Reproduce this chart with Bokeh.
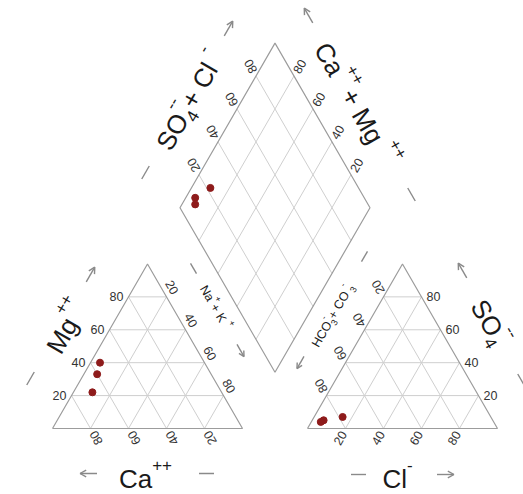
import numpy as np
from bokeh.plotting import figure
from bokeh.models import Range1d
from bokeh.embed import file_html
from bokeh.resources import INLINE
from bokeh.core.properties import value

# Sample compositions in percent of milliequivalents
ca = [68, 55, 60]
mg = [22, 40, 33]
na_k = [10, 5, 7]
cl = [15, 6, 5]
so4 = [7, 5, 4]
hco3 = [78, 89, 91]

tick_values = [20, 40, 60, 80]
tick_labels = ["20", "40", "60", "80"]

W, H = 523, 494
SCALE = 1.9                      # screen pixels per percent unit
ORIGIN_X, ORIGIN_Y = 52, 428     # screen position of the cation triangle's left corner
GAP = 34.2                       # space between the two triangles (percent units)
S3 = np.sqrt(3) / 2
OX = 100 + GAP                   # left corner of the anion triangle
BX, BY = 100 + GAP / 2, GAP * S3 # bottom corner of the diamond

FONT = "Liberation Sans"
GRID = "#cfcfcf"
EDGE = "#9c9c9c"
TICK_COLOR = "#333333"
TITLE_COLOR = "#1a1a1a"
DECOR = "#8a8a8a"
POINT = "#8E1B1B"

CHAR_W = {'C': 0.722, 'a': 0.556, 'M': 0.833, 'g': 0.556, '+': 0.584, 'N': 0.722,
          'K': 0.667, 'H': 0.722, 'O': 0.778, 'S': 0.667, 'l': 0.222, '3': 0.556,
          '4': 0.556, ' ': 0.278, '-': 0.333}


def cation_xy(c, m, n):
    return n + m / 2, m * S3


def anion_xy(c, s, h):
    return OX + c + s / 2, s * S3


def diamond_xy(sc, cm):
    return BX + 0.5 * (sc - cm), BY + S3 * (sc + cm)


def to_data(px, py):
    return (px - ORIGIN_X) / SCALE, (ORIGIN_Y - py) / SCALE


def text_width(s, size):
    return sum(CHAR_W.get(ch, 0.6) for ch in s) * size


p = figure(width=W, height=H,
           x_range=Range1d(-ORIGIN_X / SCALE, (W - ORIGIN_X) / SCALE),
           y_range=Range1d((ORIGIN_Y - H) / SCALE, ORIGIN_Y / SCALE),
           output_backend="svg", toolbar_location=None,
           x_axis_type=None, y_axis_type=None, min_border=0,
           outline_line_color=None, background_fill_color="white",
           border_fill_color="white")

# ---- grid lines -------------------------------------------------------------
gx, gy = [], []
for v in tick_values:
    r = 100 - v
    for a, b in [((0, v, r), (r, v, 0)), ((v, 0, r), (v, r, 0)), ((r, 0, v), (0, r, v))]:
        p1, p2 = cation_xy(*a), cation_xy(*b)
        gx.append([p1[0], p2[0]]); gy.append([p1[1], p2[1]])
        p1, p2 = anion_xy(*a), anion_xy(*b)
        gx.append([p1[0], p2[0]]); gy.append([p1[1], p2[1]])
    for a, b in [((v, 0), (v, 100)), ((0, v), (100, v))]:
        p1, p2 = diamond_xy(*a), diamond_xy(*b)
        gx.append([p1[0], p2[0]]); gy.append([p1[1], p2[1]])
p.multi_line(gx, gy, line_color=GRID, line_width=1)

# ---- outlines -----------------------------------------------------------------
outlines = [
    [cation_xy(100, 0, 0), cation_xy(0, 0, 100), cation_xy(0, 100, 0), cation_xy(100, 0, 0)],
    [anion_xy(0, 0, 100), anion_xy(100, 0, 0), anion_xy(0, 100, 0), anion_xy(0, 0, 100)],
    [diamond_xy(0, 0), diamond_xy(100, 0), diamond_xy(100, 100), diamond_xy(0, 100), diamond_xy(0, 0)],
]
p.multi_line([[q[0] for q in o] for o in outlines], [[q[1] for q in o] for o in outlines],
             line_color=EDGE, line_width=1.2)

# ---- tick labels ----------------------------------------------------------------
OFF = 11 / SCALE


def tick_group(points, direction_deg, angle_deg, off=OFF):
    t = np.radians(direction_deg)
    xs = [q[0] + off * np.cos(t) for q in points]
    ys = [q[1] + off * np.sin(t) for q in points]
    p.text(x=xs, y=ys, text=tick_labels, angle=np.radians(angle_deg),
           text_font=value(FONT), text_font_size="12.5px", text_color=TICK_COLOR,
           text_align="center", text_baseline="middle")


tick_group([cation_xy(v, 0, 100 - v) for v in tick_values], -60, 120)
tick_group([cation_xy(100 - v, v, 0) for v in tick_values], 180, 0, 12 / SCALE)
tick_group([cation_xy(0, 100 - v, v) for v in tick_values], 60, -60)
tick_group([anion_xy(v, 0, 100 - v) for v in tick_values], 240, 60)
tick_group([anion_xy(100 - v, v, 0) for v in tick_values], 0, 0, 12 / SCALE)
tick_group([anion_xy(0, 100 - v, v) for v in tick_values], 120, 120)
tick_group([diamond_xy(v, 100) for v in tick_values], 120, 120)
tick_group([diamond_xy(100, v) for v in tick_values], 60, 60)


# ---- axis titles with super/subscripts ----------------------------------------------
def rich_label(center_px, angle_deg, runs):
    """Lay out text runs along a rotated baseline; center_px is the middle of the
    main text (cap-height centre) in screen pixels."""
    th = np.radians(angle_deg)
    d = np.array([np.cos(th), np.sin(th)])
    u = np.array([-np.sin(th), np.cos(th)])
    cursor, placed = 0.0, []
    for run in runs:
        txt, size, rise = run[0], run[1], run[2]
        adv = run[3] if len(run) > 3 else None
        placed.append((txt, size, cursor, rise))
        cursor += text_width(txt, size) if adv is None else adv
    main = max(r[1] for r in runs)
    c = np.array(to_data(*center_px))
    base = c - d * (cursor / 2) / SCALE - u * (0.36 * main) / SCALE
    for txt, size, off, rise in placed:
        # anchor each run at the middle of its em box
        pos = base + d * off / SCALE + u * (rise + 0.33 * size) / SCALE
        p.text(x=[pos[0]], y=[pos[1]], text=[txt], angle=th,
               text_font=value(FONT), text_font_size=f"{size}px",
               text_color=TITLE_COLOR, text_align="left", text_baseline="middle")


deco_x, deco_y = [], []


def arrow(pos_px, angle_deg, length=17, head=7):
    th = np.radians(angle_deg)
    d = np.array([np.cos(th), np.sin(th)])
    c = np.array(to_data(*pos_px))
    tip = c + d * (length / 2) / SCALE
    tail = c - d * (length / 2) / SCALE
    deco_x.append([tail[0], tip[0]]); deco_y.append([tail[1], tip[1]])
    for sgn in (1, -1):
        a = th + np.pi - sgn * np.radians(28)
        e = tip + np.array([np.cos(a), np.sin(a)]) * head / SCALE
        deco_x.append([tip[0], e[0]]); deco_y.append([tip[1], e[1]])


def dash(pos_px, angle_deg, length=15):
    th = np.radians(angle_deg)
    d = np.array([np.cos(th), np.sin(th)])
    c = np.array(to_data(*pos_px))
    a, b = c - d * (length / 2) / SCALE, c + d * (length / 2) / SCALE
    deco_x.append([a[0], b[0]]); deco_y.append([a[1], b[1]])


M, SUP = 26, 17
m, s = 12.5, 9
up, dn = 0.68 * M, -0.25 * M
up_s, dn_s = 0.65 * m, -0.3 * m

rich_label((145, 478), 0, [("Ca", M, 0), ("++", SUP, up)])
arrow((88, 473), 180); dash((206, 473), 0)

rich_label((66, 326), 60, [("Mg", M, 0), ("++", SUP, up)])
dash((30, 378), 60); arrow((90, 274), 60)

rich_label((215, 307), -60, [("Na", m, 0), ("+", s, up_s), (" + K", m, 0), ("+", s, up_s)])
dash((193, 268), -60, 12); arrow((240, 350), -60, 14, 6)

rich_label((397, 478), 0, [("Cl", M, 0), ("-", SUP, up)])
dash((358, 474), 0); arrow((445, 474), 0)

so4_w = text_width("--", SUP)
rich_label((490, 322), -60, [("SO", M, 0), ("4", SUP, dn, 0), ("--", SUP, up, so4_w)])
arrow((462, 270), 120); dash((521, 380), -60)

w3 = max(text_width("3", s), text_width("-", s))
rich_label((332, 315), 60, [("HCO", m, 0), ("3", s, dn_s, 0), ("-", s, up_s, w3),
                            (" + CO", m, 0), ("3", s, dn_s, 0), ("-", s, up_s, w3)])
arrow((300, 362), 240, 14, 6); dash((364, 256), 60, 12)

rich_label((189, 100), 60, [("SO", M, 0), ("4", SUP, dn, 0), ("--", SUP, up, so4_w),
                            (" + Cl", M, 0), ("-", SUP, up)])
dash((145, 172), 60); arrow((228, 28), 60)

rich_label((356, 104), -60, [("Ca", M, 0), ("++", SUP, up), (" + Mg", M, 0), ("++", SUP, up)])
arrow((308, 15), 120); dash((411, 194), -60)

p.multi_line(deco_x, deco_y, line_color=DECOR, line_width=1.4)

# ---- samples ---------------------------------------------------------------------
cat = [cation_xy(c_, m_, n_) for c_, m_, n_ in zip(ca, mg, na_k)]
an = [anion_xy(c_, s_, h_) for c_, s_, h_ in zip(cl, so4, hco3)]
dia = [diamond_xy(c_ + s_, a_ + b_) for c_, s_, a_, b_ in zip(cl, so4, ca, mg)]
for pts in (cat, an, dia):
    p.scatter([q[0] for q in pts], [q[1] for q in pts], size=7,
              fill_color=POINT, line_color=POINT)

open("out.html", "w").write(file_html(p, INLINE))
